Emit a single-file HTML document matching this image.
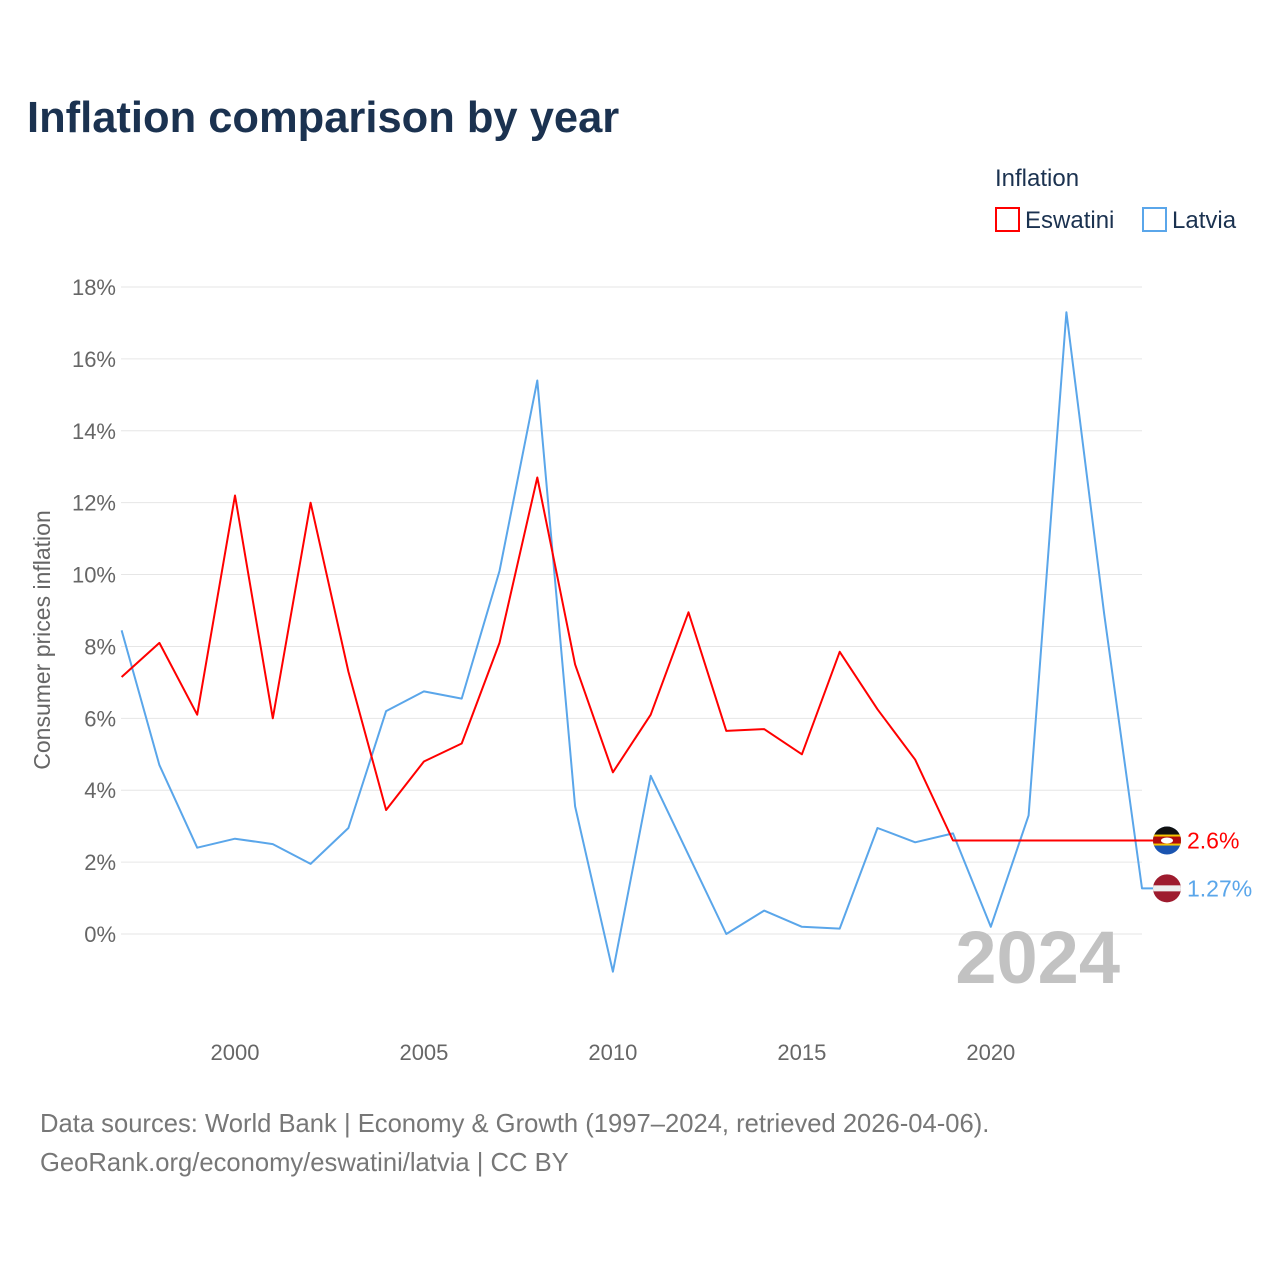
<!DOCTYPE html>
<html><head><meta charset="utf-8"><style>
body{margin:0;background:#fff;font-family:"Liberation Sans",sans-serif;}
#wrap{position:relative;width:1280px;height:1280px;overflow:hidden;}
</style></head><body>
<div id="wrap">
<svg id="chart" width="1280" height="1280" xmlns="http://www.w3.org/2000/svg" font-family="Liberation Sans, sans-serif">
<text x="27" y="132" font-size="43.5" font-weight="bold" fill="#1b3250">Inflation comparison by year</text>
<text x="995" y="186" font-size="24" fill="#1b3250">Inflation</text>
<g><rect x="996" y="208" width="23" height="23" fill="none" stroke="#ff0000" stroke-width="2"/><text x="1025" y="228" font-size="24" fill="#1b3250">Eswatini</text></g>
<g><rect x="1143" y="208" width="23" height="23" fill="none" stroke="#5aa6ea" stroke-width="2"/><text x="1172" y="228" font-size="24" fill="#1b3250">Latvia</text></g>
<text transform="translate(50,640) rotate(-90)" text-anchor="middle" font-size="23" fill="#666">Consumer prices inflation</text>
<g id="grid"></g><g id="xt"></g><g id="series"></g>
<text x="1120" y="983" text-anchor="end" font-size="74" font-weight="bold" fill="#c2c2c2">2024</text>
<text x="40" y="1132" font-size="25.6" fill="#777">Data sources: World Bank | Economy &amp; Growth (1997–2024, retrieved 2026-04-06).</text>
<text x="40" y="1171" font-size="25.6" fill="#777">GeoRank.org/economy/eswatini/latvia | CC BY</text>
</svg></div>
<script>
const years=[1997,1998,1999,2000,2001,2002,2003,2004,2005,2006,2007,2008,2009,2010,2011,2012,2013,2014,2015,2016,2017,2018,2019,2020,2021,2022,2023,2024];
const eswatini=[7.15,8.1,6.1,12.2,6.0,12.0,7.3,3.45,4.8,5.3,8.1,12.7,7.5,4.5,6.1,8.95,5.65,5.7,5.0,7.85,6.25,4.85,2.6];
const latvia=[8.45,4.7,2.4,2.65,2.5,1.95,2.95,6.2,6.75,6.55,10.1,15.4,3.55,-1.05,4.4,2.2,0.0,0.65,0.2,0.15,2.95,2.55,2.8,0.2,3.3,17.3,8.9,1.27];
const yTicks=[0,2,4,6,8,10,12,14,16,18];
const xTicks=[2000,2005,2010,2015,2020];
const NS="http://www.w3.org/2000/svg";
const X=y=>121.6+(y-1997)*(1142-121.6)/27;
const Y=v=>934-v*(934-287)/18;
function mk(t,a,p){const e=document.createElementNS(NS,t);for(const k in a)e.setAttribute(k,a[k]);p.appendChild(e);return e;}
const grid=document.getElementById('grid');
yTicks.forEach(v=>{
 const l=mk('line',{x1:121,x2:1142,y1:Y(v),y2:Y(v),stroke:'#e6e6e6','stroke-width':1},grid);
 
 
 const t=mk('text',{x:116,y:Y(v)+8,'text-anchor':'end','font-size':22,fill:'#666'},grid);
 t.textContent=v+'%';
 
 
});
const xt=document.getElementById('xt');
xTicks.forEach(v=>{
 const t=mk('text',{x:X(v),y:1060,'text-anchor':'middle','font-size':22,fill:'#666'},xt);
 t.textContent=v;
 
 
});
const s=document.getElementById('series');
function line(vals,col,name){
 const pts=vals.map((v,i)=>X(years[i]).toFixed(1)+','+Y(v).toFixed(1));
 const last=vals[vals.length-1];
 pts.push('1155,'+Y(last).toFixed(1));
 const p=mk('polyline',{points:pts.join(' '),fill:'none',stroke:col,'stroke-width':2,'stroke-linejoin':'round'},s);
 
 
 return last;
}
const le=line(latvia,'#5aa6ea','latvia');
const ee=line(eswatini,'#ff0000','eswatini');
const fe=mk('g',{},s);


const cy1=Y(ee);
const cp1=mk('clipPath',{id:'c1'},fe);mk('circle',{cx:1167,cy:cy1,r:14},cp1);
const g1=mk('g',{'clip-path':'url(#c1)'},fe);
mk('rect',{x:1150,y:cy1-15,width:34,height:30,fill:'#1a54b0'},g1);
mk('rect',{x:1150,y:cy1-15,width:34,height:9,fill:'#111'},g1);
mk('rect',{x:1150,y:cy1-6,width:34,height:11,fill:'#f5c400'},g1);
mk('rect',{x:1150,y:cy1-4,width:34,height:7,fill:'#b10c0c'},g1);
mk('ellipse',{cx:1167,cy:cy1,rx:6,ry:3,fill:'#fff'},g1);
const fl=mk('g',{},s);


const cy2=Y(le);
const cp=mk('clipPath',{id:'c2'},fl);mk('circle',{cx:1167,cy:cy2,r:14},cp);
const g2=mk('g',{'clip-path':'url(#c2)'},fl);
mk('rect',{x:1150,y:cy2-15,width:34,height:30,fill:'#9e1b2e'},g2);
mk('rect',{x:1150,y:cy2-3,width:34,height:6,fill:'#eee'},g2);
const t1=mk('text',{x:1187,y:cy1+8,'font-size':23,fill:'#ff0000'},s);t1.textContent=ee+'%';


const t2=mk('text',{x:1187,y:cy2+8,'font-size':23,fill:'#5aa6ea'},s);t2.textContent=le+'%';


</script>
</body></html>
